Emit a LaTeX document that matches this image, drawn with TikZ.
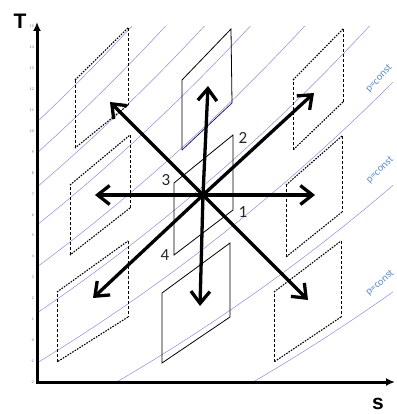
\documentclass[tikz,border=0pt]{standalone}
\usepackage{fontspec}
\setmainfont{Carlito}
\newfontfamily\arialf{Liberation Sans}
\usetikzlibrary{arrows.meta}
\definecolor{plines}{RGB}{140,140,225}
\definecolor{plabelc}{RGB}{90,140,205}
\definecolor{navyedge}{RGB}{30,30,110}
\tikzset{
 axisline/.style={line width=3pt, -{Latex[length=9pt,width=8pt]}},
 bigarrow/.style={line width=3.3pt, -{Straight Barb[length=12pt,width=19pt]}},
 solidbox/.style={line width=0.8pt, line join=miter},
 dvert/.style={line width=0.7pt, dash pattern=on 3pt off 2pt},
 dslant/.style={line width=1.1pt, dash pattern=on 1.6pt off 1.2pt},
 pline/.style={draw=plines, line width=0.5pt},
 plabel/.style={text=plabelc, font=\fontsize{10.5}{10.5}\selectfont, inner sep=0pt},
 ticklab/.style={font=\fontsize{4}{4}\selectfont, text=black!55, inner sep=0pt},
 cornerlab/.style={font=\fontsize{17}{17}\selectfont, inner sep=0pt, text=black!85},
 axislab/.style={font=\arialf\bfseries\fontsize{21}{21}\selectfont, inner sep=0pt},
}
\newcommand\mydbox[8]{%
 \draw[dslant] (#1,#2) -- (#3,#4);
 \draw[dvert] (#3,#4) -- (#5,#6);
 \draw[dslant] (#5,#6) -- (#7,#8);
 \draw[dvert] (#7,#8) -- (#1,#2);
}
\begin{document}
\begin{tikzpicture}[x=1pt,y=-1pt]
\useasboundingbox (0,0) rectangle (396,414);
% p=const lines
\begin{scope}
\clip (37,27) rectangle (393,382);
\foreach \yz in {260,229,195,157,115,69,19,-44,-109} {
 \draw[pline] plot[domain=37:393, samples=50, smooth] (\x, {382 - ((\yz+421)*exp((\x-37)/721) - 421)});
}
\end{scope}
\node[plabel, rotate=47] (pl1) at (379,79) {p=const};
\node[plabel, rotate=44] (pl2) at (380,170) {p=const};
\node[plabel, rotate=41] (pl3) at (380,283) {p=const};
% tick labels
\foreach \v in {-2,...,15} {
 \node[ticklab, anchor=east] (t\v) at (34, {382-(\v+2)*20.9}) {\v};
}
% axes
\coordinate (origin) at (37,382);
\coordinate (ytip) at (37,22);
\coordinate (xtip) at (395,382);
\draw[axisline] (37,384) -- (ytip);
\draw[axisline] (35.5,382) -- (xtip);
\node[axislab] (Tlab) at (20,21) {T};
\node[axislab] (slab) at (378,404) {s};
% dashed boxes
\mydbox{75}{80}{128}{28}{128}{105}{75}{148}
\mydbox{70}{185}{130}{135}{130}{208}{70}{255}
\mydbox{57}{292}{128}{241}{128}{317}{57}{362}
\mydbox{293}{80}{343}{29}{343}{102}{293}{150}
\mydbox{286}{185}{342}{136}{342}{212}{286}{257}
\mydbox{274}{292}{341}{241}{341}{317}{274}{362}
% solid boxes
\draw[solidbox] (182,150) -- (182,80) -- (231,29) -- (232,103);
\draw[solidbox, draw=navyedge] (232,103) -- (182,150);
\draw[solidbox] (162,293) -- (230,243) -- (230,317) -- (162,363) -- cycle;
\draw[solidbox] (174,183) -- (233,135) -- (233,210) -- (174,255) -- cycle;
\node[cornerlab] (c1) at (243,212) {1};
\node[cornerlab] (c2) at (243,138) {2};
\node[cornerlab] (c3) at (166,180) {3};
\node[cornerlab] (c4) at (165,255) {4};
% arrows
\coordinate (ctr) at (203,195);
\coordinate (aN) at (208,86);
\coordinate (aS) at (200,306);
\coordinate (aE) at (315,195);
\coordinate (aW) at (95,195);
\coordinate (aNE) at (314,93);
\coordinate (aSW) at (93,298);
\coordinate (aNW) at (110,102);
\coordinate (aSE) at (308,300);
\foreach \t in {aN,aS,aE,aW,aNE,aSW,aNW,aSE} {
 \draw[bigarrow] (ctr) -- (\t);
}
\end{tikzpicture}
\end{document}
